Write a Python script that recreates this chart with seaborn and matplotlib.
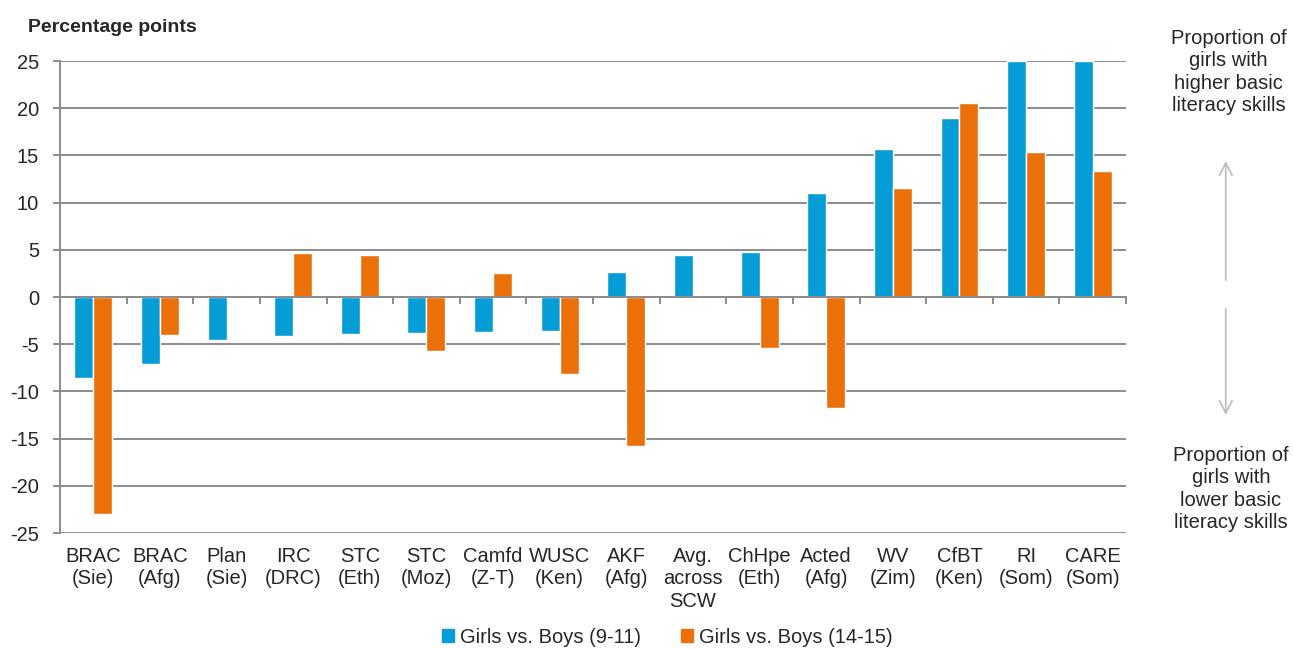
import pandas as pd
import seaborn as sns
import matplotlib.pyplot as plt

# Data
categories = ["BRAC\n(Sie)", "BRAC\n(Afg)", "Plan\n(Sie)", "IRC\n(DRC)", "STC\n(Eth)",
              "STC\n(Moz)", "Camfd\n(Z-T)", "WUSC\n(Ken)", "AKF\n(Afg)", "Avg.\nacross\nSCW",
              "ChHpe\n(Eth)", "Acted\n(Afg)", "WV\n(Zim)", "CfBT\n(Ken)", "RI\n(Som)", "CARE\n(Som)"]
young = [-8.6, -7.1, -4.6, -4.1, -3.9, -3.8, -3.7, -3.6, 2.6, 4.4, 4.8, 11.0, 15.7, 19.0, 25.0, 25.0]
older = [-23.0, -4.0, 0.0, 4.7, 4.5, -5.7, 2.5, -8.2, -15.8, -0.1, -5.4, -11.8, 11.5, 20.5, 15.4, 13.3]
series = ["Girls vs. Boys (9-11)", "Girls vs. Boys (14-15)"]
colors = ["#049DD5", "#EB700A"]
yticks = [-25, -20, -15, -10, -5, 0, 5, 10, 15, 20, 25]

df = pd.DataFrame({
    "category": categories * 2,
    "value": young + older,
    "series": [series[0]] * len(categories) + [series[1]] * len(categories),
})

sns.set_style("white")
plt.rcParams['font.family'] = ['Liberation Sans', 'DejaVu Sans']
fs = 14.5

fig = plt.figure(figsize=(12.93, 6.49), dpi=100)
ax = fig.add_axes([0.0464, 0.1787, 0.8245, 0.7273])

sns.barplot(data=df, x="category", y="value", hue="series", hue_order=series,
            palette=colors, width=0.57, saturation=1, ax=ax, legend=False)

ax.set_ylim(-25, 25)
ax.set_xlim(-0.5, len(categories) - 0.5)
ax.set_yticks(yticks)
ax.set_yticklabels([str(t) for t in yticks], fontsize=fs)
ax.set_xlabel("")
ax.set_ylabel("")

gray = "#8c8c8c"
ax.yaxis.grid(True, color=gray, linewidth=1.4)
ax.set_axisbelow(True)
for s in ["top", "right"]:
    ax.spines[s].set_visible(False)
ax.spines["left"].set_color(gray)
ax.spines["left"].set_linewidth(1.4)
ax.spines["bottom"].set_color(gray)
ax.spines["bottom"].set_linewidth(1.4)
ax.spines["bottom"].set_position(("data", 0))
ax.spines["bottom"].set_zorder(3)

ax.tick_params(axis="y", direction="out", length=5, color=gray, width=1.4, pad=10, left=True)
ax.set_xticks([i - 0.5 for i in range(len(categories) + 1)], minor=True)
ax.tick_params(axis="x", which="minor", direction="out", length=5, color=gray, width=1.4, bottom=True)
ax.tick_params(axis="x", which="major", length=0, pad=180, labelsize=fs)
for lab in ax.get_xticklabels():
    lab.set_verticalalignment("top")
    lab.set_linespacing(1.22)

fig.text(0.0217, 0.958, "Percentage points", fontsize=14, fontweight="bold", va="center")

fig.text(0.95, 0.889, "Proportion of\ngirls with\nhigher basic\nliteracy skills",
         ha="center", va="center", fontsize=fs, linespacing=1.22)
fig.text(0.952, 0.2465, "Proportion of\ngirls with\nlower basic\nliteracy skills",
         ha="center", va="center", fontsize=fs, linespacing=1.22)
arrow = dict(arrowstyle="->,head_length=0.9,head_width=0.45", color="#c0c0c0", lw=1.3)
ax.annotate("", xy=(0.948, 1 - 158 / 649), xytext=(0.948, 1 - 283 / 649),
            xycoords="figure fraction", textcoords="figure fraction", arrowprops=arrow)
ax.annotate("", xy=(0.948, 1 - 418 / 649), xytext=(0.948, 1 - 306 / 649),
            xycoords="figure fraction", textcoords="figure fraction", arrowprops=arrow)

handles = [plt.Rectangle((0, 0), 1, 1, color=c) for c in colors]
fig.legend(handles, series, loc="center", bbox_to_anchor=(0.516, 0.018), ncol=2,
           frameon=False, fontsize=fs, handlelength=0.6, handleheight=0.6,
           handletextpad=0.3, columnspacing=2.0, borderpad=0)

fig.savefig("out.png", dpi=100)
